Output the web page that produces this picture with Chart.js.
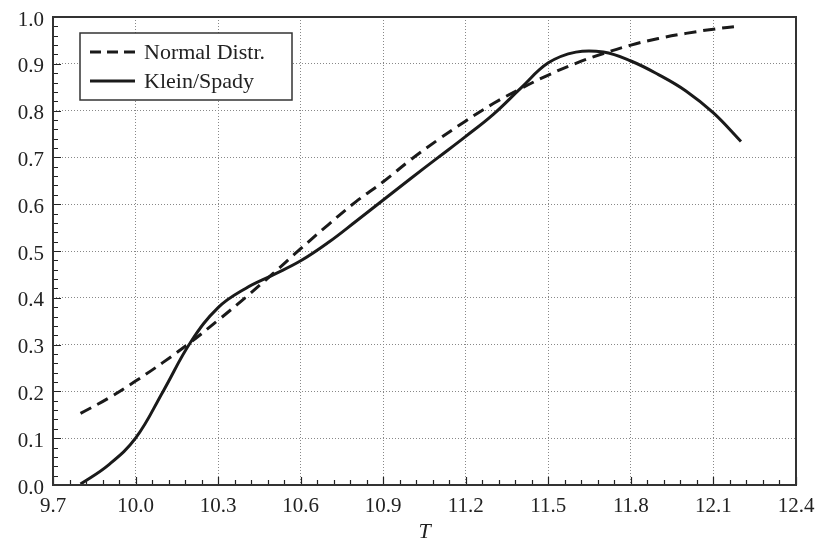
<!DOCTYPE html>
<html>
<head>
<meta charset="utf-8">
<script src="https://cdn.jsdelivr.net/npm/chart.js@4.4.1/dist/chart.umd.min.js"></script>
<style>
  html, body { margin: 0; padding: 0; background: #fff; }
  #graphique { display: block; }
</style>
</head>
<body>
<canvas id="graphique" width="817" height="541"></canvas>
<script>
// valeurs
const tValeurs = [9.8, 9.9, 10.0, 10.1, 10.2, 10.3, 10.4, 10.5, 10.6, 10.7, 10.8, 10.9, 11.0,
  11.1, 11.2, 11.3, 11.4, 11.5, 11.6, 11.7, 11.8, 11.9, 12.0, 12.1, 12.2];
const normale = [0.153, 0.185, 0.222, 0.262, 0.305, 0.352, 0.401, 0.452, 0.505, 0.556, 0.605, 0.648, 0.695,
  0.738, 0.778, 0.815, 0.847, 0.876, 0.901, 0.922, 0.940, 0.954, 0.965, 0.974, 0.981];
const kleinSpady = [0.002, 0.042, 0.100, 0.200, 0.305, 0.379, 0.420, 0.449, 0.479, 0.518, 0.563, 0.609, 0.655,
  0.700, 0.745, 0.792, 0.848, 0.902, 0.925, 0.925, 0.906, 0.877, 0.842, 0.795, 0.734];
const ticksX = [9.7, 10.0, 10.3, 10.6, 10.9, 11.2, 11.5, 11.8, 12.1, 12.4];
const ticksY = [0.0, 0.1, 0.2, 0.3, 0.4, 0.5, 0.6, 0.7, 0.8, 0.9, 1.0];
const libelles = ['Normal Distr.', 'Klein/Spady'];

const toPoints = (ys) => tValeurs.map((t, i) => ({ x: t, y: ys[i] }));
const police = "'Liberation Serif', 'Times New Roman', serif";

// cadre, petites graduations vers l'intérieur et légende encadrée
const cadrePlugin = {
  id: 'cadre',
  afterDraw(chart) {
    const { ctx, chartArea: a, scales } = chart;
    ctx.save();
    ctx.strokeStyle = '#222';
    ctx.lineWidth = 1.2;
    ctx.beginPath();
    ticksX.forEach(v => {
      const px = Math.round(scales.x.getPixelForValue(v)) + 0.5;
      ctx.moveTo(px, a.bottom); ctx.lineTo(px, a.bottom - 8);
    });
    for (let i = 0; i <= 45; i++) {
      const px = Math.round(scales.x.getPixelForValue(9.7 + i * 0.06)) + 0.5;
      ctx.moveTo(px, a.bottom); ctx.lineTo(px, a.bottom - 5);
    }
    ticksY.forEach(v => {
      const py = Math.round(scales.y.getPixelForValue(v)) + 0.5;
      ctx.moveTo(a.left, py); ctx.lineTo(a.left + 8, py);
    });
    for (let i = 0; i <= 50; i++) {
      const py = Math.round(scales.y.getPixelForValue(i * 0.02)) + 0.5;
      ctx.moveTo(a.left, py); ctx.lineTo(a.left + 5, py);
    }
    ctx.stroke();

    ctx.lineWidth = 2;
    ctx.strokeStyle = '#333';
    ctx.strokeRect(a.left, a.top, a.right - a.left, a.bottom - a.top);

    // légende
    ctx.fillStyle = '#fff';
    ctx.fillRect(80, 33, 212, 67);
    ctx.lineWidth = 1.5;
    ctx.strokeStyle = '#333';
    ctx.strokeRect(80, 33, 212, 67);
    chart.data.datasets.forEach((ds, i) => {
      const y = 52 + i * 29;
      ctx.strokeStyle = ds.borderColor;
      ctx.lineWidth = ds.borderWidth;
      ctx.setLineDash(ds.borderDash ? [11, 6] : []);
      ctx.beginPath();
      ctx.moveTo(90, y); ctx.lineTo(135, y);
      ctx.stroke();
      ctx.setLineDash([]);
      ctx.fillStyle = '#222';
      ctx.font = '22px ' + police;
      ctx.textBaseline = 'middle';
      ctx.fillText(ds.label, 144, y + 1);
    });
    ctx.restore();
  }
};

const ctx = document.getElementById('graphique');
new Chart(ctx, {
  type: 'line',
  data: {
    datasets: [{
      label: libelles[0],
      data: toPoints(normale),
      borderColor: '#1a1a1a',
      borderWidth: 3,
      borderDash: [12, 7],
      pointRadius: 0,
      tension: 0.4
    }, {
      label: libelles[1],
      data: toPoints(kleinSpady),
      borderColor: '#1a1a1a',
      borderWidth: 3,
      pointRadius: 0,
      tension: 0.4
    }]
  },
  options: {
    responsive: false,
    animation: false,
    devicePixelRatio: 1,
    layout: { padding: { top: 17, right: 21, left: 0, bottom: 0 } },
    plugins: { legend: { display: false }, tooltip: { enabled: false } },
    scales: {
      x: {
        type: 'linear',
        min: 9.7,
        max: 12.4,
        afterBuildTicks: (s) => { s.ticks = ticksX.map(v => ({ value: v })); },
        afterFit: (s) => { s.height = 56; s.paddingLeft = 0; s.paddingRight = 0; },
        ticks: {
          padding: 9,
          color: '#222',
          font: { family: police, size: 21 },
          callback: (v) => Number(v).toFixed(1),
          maxRotation: 0
        },
        grid: { color: '#888', lineWidth: 1, drawTicks: false },
        border: { display: false, dash: [1, 2] },
        title: {
          display: true,
          text: 'T',
          color: '#222',
          font: { family: police, size: 22, style: 'italic', lineHeight: 0.8 },
          padding: { top: 0, bottom: 0 }
        }
      },
      y: {
        type: 'linear',
        min: 0,
        max: 1.0,
        afterBuildTicks: (s) => { s.ticks = ticksY.map(v => ({ value: v })); },
        afterFit: (s) => { s.width = 53; s.paddingTop = 0; s.paddingBottom = 0; },
        ticks: {
          padding: 9,
          labelOffset: 3,
          color: '#222',
          font: { family: police, size: 21 },
          callback: (v) => Number(v).toFixed(1)
        },
        grid: { color: '#888', lineWidth: 1, drawTicks: false },
        border: { display: false, dash: [1, 2] }
      }
    }
  },
  plugins: [cadrePlugin]
});
</script>
</body>
</html>
